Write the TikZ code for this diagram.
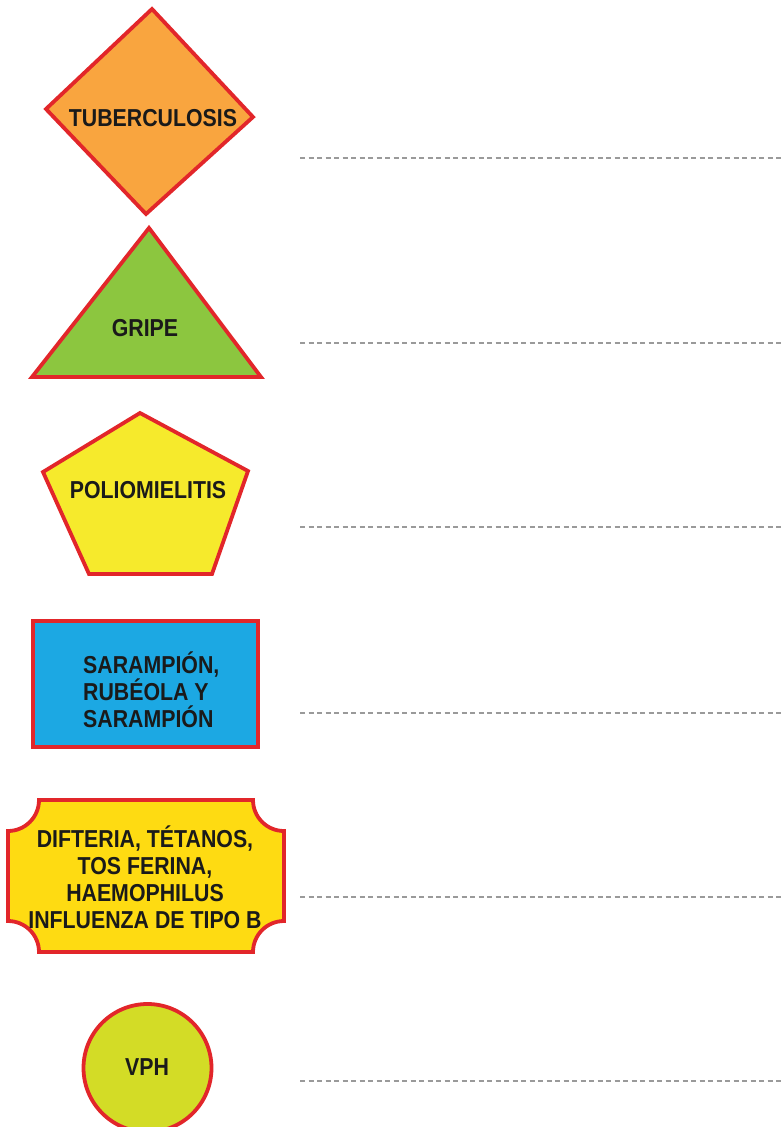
\documentclass[tikz,border=0pt]{standalone}
\usepackage{fontspec}
\newfontfamily\lbl[FakeStretch=0.87]{Liberation Sans}
\definecolor{edge}{HTML}{E2262A}
\definecolor{cOrange}{HTML}{F9A53F}
\definecolor{cGreen}{HTML}{8CC63F}
\definecolor{cYellow}{HTML}{F6EA2C}
\definecolor{cBlue}{HTML}{1CA8E3}
\definecolor{cGold}{HTML}{FEDB12}
\definecolor{cLime}{HTML}{D3DC26}
\definecolor{ink}{HTML}{1A1A1A}
\definecolor{dashgray}{HTML}{9A9A9A}
\tikzset{
  shapebox/.style={draw=edge, line width=3.8pt, line join=miter},
  label/.style={font=\lbl\bfseries\fontsize{24.5}{27}\selectfont, text=ink, inner sep=0pt},
  answerline/.style={draw=dashgray, line width=1.3pt, dash pattern=on 5pt off 3.5pt},
}
\begin{document}
\begin{tikzpicture}[x=1pt,y=-1pt]
\useasboundingbox (0,0) rectangle (784,1127);
\clip (0,0) rectangle (784,1127);
\fill[white] (0,0) rectangle (784,1127);

% diamond
\path[shapebox, fill=cOrange] (152,9) -- (253,117) -- (146,214) -- (46,109) -- cycle;
\node[label] (tb) at (153,118) {TUBERCULOSIS};

% triangle
\path[shapebox, fill=cGreen] (149,228) -- (261,377) -- (32,377) -- cycle;
\node[label] (gr) at (145,328) {GRIPE};

% pentagon
\path[shapebox, fill=cYellow] (140,413) -- (248,471) -- (212,574) -- (89,574) -- (43,472) -- cycle;
\node[label] (po) at (148,490) {POLIOMIELITIS};

% rectangle
\path[shapebox, fill=cBlue] (33,621) rectangle (258,747);
\node[label, anchor=west, align=left] (sa) at (83,690) {SARAMPIÓN,\\RUBÉOLA Y\\SARAMPIÓN};

% plaque
\path[shapebox, fill=cGold] (39,800) -- (253,800)
  arc[start angle=180, end angle=90, radius=31]
  -- (284,921)
  arc[start angle=270, end angle=180, radius=31]
  -- (39,952)
  arc[start angle=0, end angle=-90, radius=31]
  -- (8,831)
  arc[start angle=90, end angle=0, radius=31] -- cycle;
\node[label, align=center] (di) at (145,877) {DIFTERIA, TÉTANOS,\\TOS FERINA,\\HAEMOPHILUS\\INFLUENZA DE TIPO B};

% circle
\path[shapebox, fill=cLime] (147.5,1068) circle[radius=64];
\node[label] (vp) at (147,1067) {VPH};

% answer lines
\foreach \i/\yy in {1/158,2/343,3/527,4/713,5/897,6/1081}{
  \coordinate (ls\i) at (300,\yy);
  \coordinate (le\i) at (784,\yy);
  \draw[answerline] (ls\i) -- (le\i);
}
\end{tikzpicture}
\end{document}
